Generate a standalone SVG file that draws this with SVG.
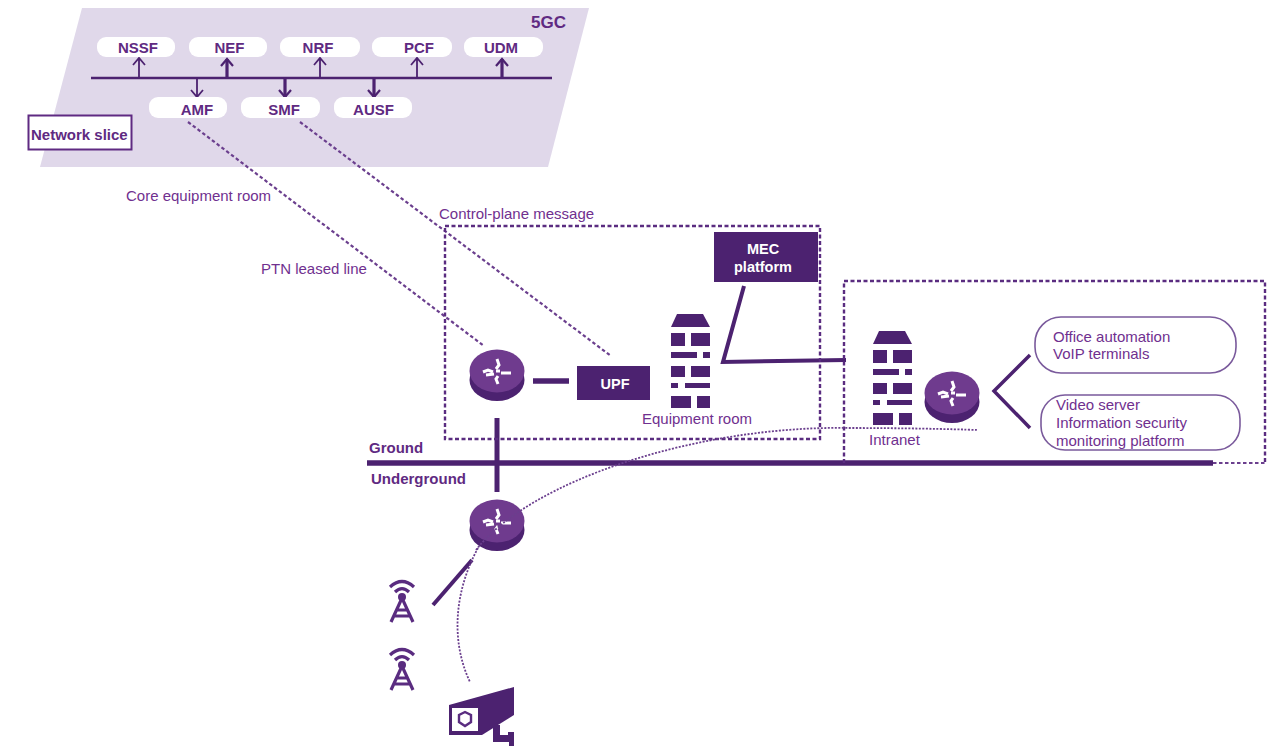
<svg xmlns="http://www.w3.org/2000/svg" width="1281" height="747" viewBox="0 0 1281 747">
<style>
text{font-family:"Liberation Sans",Arial,sans-serif;font-size:15px;fill:#70308f}
.b{font-weight:700;fill:#5f2a82}
.w{font-weight:700;fill:#fff;text-anchor:middle;font-size:14.5px}
.c{text-anchor:middle}
.pill{fill:#fff}
.dk{fill:#4c2270}
.ln{stroke:#4c2270;fill:none;stroke-linecap:butt}
.box{fill:none;stroke:#5a2c80;stroke-width:2.4;stroke-dasharray:4 2.500}
.dash{fill:none;stroke:#6b3f8e;stroke-width:2.200;stroke-dasharray:3.500 2.500}
.dot{fill:none;stroke:#6b3f8e;stroke-width:1.800;stroke-dasharray:2 1.500}
.rb{fill:#fff;stroke:#7a5a9c;stroke-width:1.600}
</style>
<defs>
<g id="router">
<ellipse cx="0" cy="7" rx="27.500" ry="21" fill="#4c2270"/>
<ellipse cx="0" cy="-2" rx="27.500" ry="21.500" fill="#6f3b8e"/>
<g stroke="#fff" stroke-width="3" fill="none">
<path d="M-14 -1L-9 -3L-4 -1"/>
<path d="M4 0H14"/>
<path d="M0 -14L2 -8L-1 -4"/>
<path d="M1 3L-1 6L1 11"/>
<path d="M-11 2L-3 1M-1 -2L3 -2"/>
</g>
</g>
<g id="bld" class="dk">
<path d="M7 0H33L40 13H1Z"/>
<rect x="1" y="19" width="14" height="13"/><rect x="21" y="19" width="19" height="13"/>
<rect x="1" y="38" width="26" height="6"/><rect x="33" y="38" width="7" height="6"/>
<rect x="1" y="52" width="14" height="11"/><rect x="21" y="52" width="19" height="11"/>
<rect x="1" y="69" width="7" height="5"/><rect x="15" y="69" width="25" height="5"/>
<rect x="1" y="82" width="20" height="12"/><rect x="27" y="82" width="13" height="12"/>
</g>
<g id="tower" fill="none" stroke="#5a2c80" stroke-width="3.200">
<path d="M-12 -11Q0 -22 12 -11M-7 -6Q0 -13 7 -6"/>
<path d="M-11 24L0 0L11 24M-6 12H6M-8 18H8"/>
<circle cx="0" cy="-1" r="4" fill="#5a2c80" stroke="none"/>
</g>
</defs>
<path id="plane" d="M82 8H589L548 167H40Z" fill="#e0d8ea"/>
<g id="connectors">
<path d="M91 78H552" class="ln" stroke-width="2.400"/>
<g class="ln" stroke-width="1.800">
<path d="M139 78V58M133 65L139 58L145 65"/>
<path d="M227 78V59" stroke-width="3.200"/><path d="M221 66L227 59L233 66" stroke-width="2.200"/>
<path d="M320 78V58M314 65L320 58L326 65"/>
<path d="M417 78V58M411 65L417 58L423 65"/>
<path d="M502 78V59" stroke-width="3.200"/><path d="M496 66L502 59L508 66" stroke-width="2.200"/>
<path d="M197 78V97M191 90L197 97L203 90"/>
<path d="M285 78V97" stroke-width="3.200"/><path d="M279 90L285 97L291 90" stroke-width="2.200"/>
<path d="M374 78V97" stroke-width="3.200"/><path d="M368 90L374 97L380 90" stroke-width="2.200"/>
</g>
<path d="M188 122L484 346" class="dash"/>
<path d="M300 122L611 356" class="dash"/>
<path d="M533 381H569" class="ln" stroke-width="5.500"/>
<path d="M497 418V492" class="ln" stroke-width="5"/>
<path d="M367 463H1213" class="ln" stroke-width="5.500"/>
<path d="M1213 463H1265" class="dash"/>
<path d="M744 286L723 362L846 360" class="ln" stroke-width="4"/>
<path d="M1030 355L994 391L1030 428" class="ln" stroke-width="3.500"/>
<path d="M433 605L472 560" class="ln" stroke-width="4"/>
</g>
<rect id="equipment-room-box" x="445" y="226" width="375" height="213" class="box"/>
<path id="intranet-box" d="M844 463V281H1265V463" class="box"/>
<g id="nssf"><rect x="97" y="37" width="78" height="20" rx="9" class="pill"/><text x="138" y="53" class="b c">NSSF</text></g>
<g id="nef"><rect x="189" y="37" width="78" height="20" rx="9" class="pill"/><text x="229.500" y="53" class="b c">NEF</text></g>
<g id="nrf"><rect x="280" y="37" width="80" height="20" rx="9" class="pill"/><text x="318" y="53" class="b c">NRF</text></g>
<g id="pcf"><rect x="372" y="37" width="80" height="20" rx="9" class="pill"/><text x="419" y="53" class="b c">PCF</text></g>
<g id="udm"><rect x="464" y="37" width="79" height="20" rx="9" class="pill"/><text x="501" y="53" class="b c">UDM</text></g>
<g id="amf"><rect x="149" y="97" width="78" height="21" rx="9" class="pill"/><text x="197" y="115" class="b c">AMF</text></g>
<g id="smf"><rect x="241" y="97" width="79" height="21" rx="9" class="pill"/><text x="284" y="115" class="b c">SMF</text></g>
<g id="ausf"><rect x="334" y="97" width="78" height="21" rx="9" class="pill"/><text x="373.500" y="115" class="b c">AUSF</text></g>
<g id="fivegc"><text x="531" y="28" class="b" style="font-size:17px">5GC</text></g>
<g id="network-slice"><rect x="28.500" y="115.500" width="103" height="34" fill="#fff" stroke="#5f2a82" stroke-width="2"/><text x="31" y="140" class="b">Network slice</text></g>
<g id="labels">
<text x="126" y="201">Core equipment room</text>
<text x="439" y="219">Control-plane message</text>
<text x="261" y="274">PTN leased line</text>
<text x="642" y="424">Equipment room</text>
<text x="869" y="445">Intranet</text>
<text x="369" y="453" class="b">Ground</text>
<text x="371" y="484" class="b">Underground</text>
</g>
<g id="mec"><rect x="714" y="232" width="104" height="50" class="dk"/><text x="763" y="254" class="w">MEC</text><text x="763" y="272" class="w">platform</text></g>
<g id="upf"><rect x="577" y="366" width="73" height="34" class="dk"/><text x="615" y="389" class="w">UPF</text></g>
<use id="router1" href="#router" x="497" y="373"/>
<use id="router2" href="#router" x="497" y="523"/>
<use id="router3" href="#router" x="952" y="395"/>
<use id="building1" href="#bld" x="670" y="314"/>
<use id="building2" href="#bld" x="872" y="331"/>
<g id="office"><rect x="1035" y="317" width="201" height="56" rx="26" class="rb"/><text x="1053" y="342">Office automation</text><text x="1053" y="359">VoIP terminals</text></g>
<g id="video"><rect x="1041" y="395" width="199" height="55" rx="24" class="rb"/><text x="1056" y="410">Video server</text><text x="1056" y="428">Information security</text><text x="1056" y="446">monitoring platform</text></g>
<use id="tower1" href="#tower" x="402" y="598"/>
<use id="tower2" href="#tower" x="402" y="666"/>
<g id="camera">
<path d="M449 705L514 687V715L482 735H449Z" class="dk"/>
<rect x="452" y="708" width="26" height="23" fill="#fff"/>
<path d="M465 712L471 715V722L465 726L459 722V715Z" fill="none" stroke="#5a2c80" stroke-width="2.400"/>
<path d="M493 725H500V735H508V732H514V746H509V742H493Z" class="dk"/>
</g>
<g id="dotted">
<path d="M476 550C530 480 700 425 850 428C900 428 950 429 978 430" class="dot"/>
<path d="M478 548C455 590 450 640 470 682" class="dot"/>
</g>
</svg>
